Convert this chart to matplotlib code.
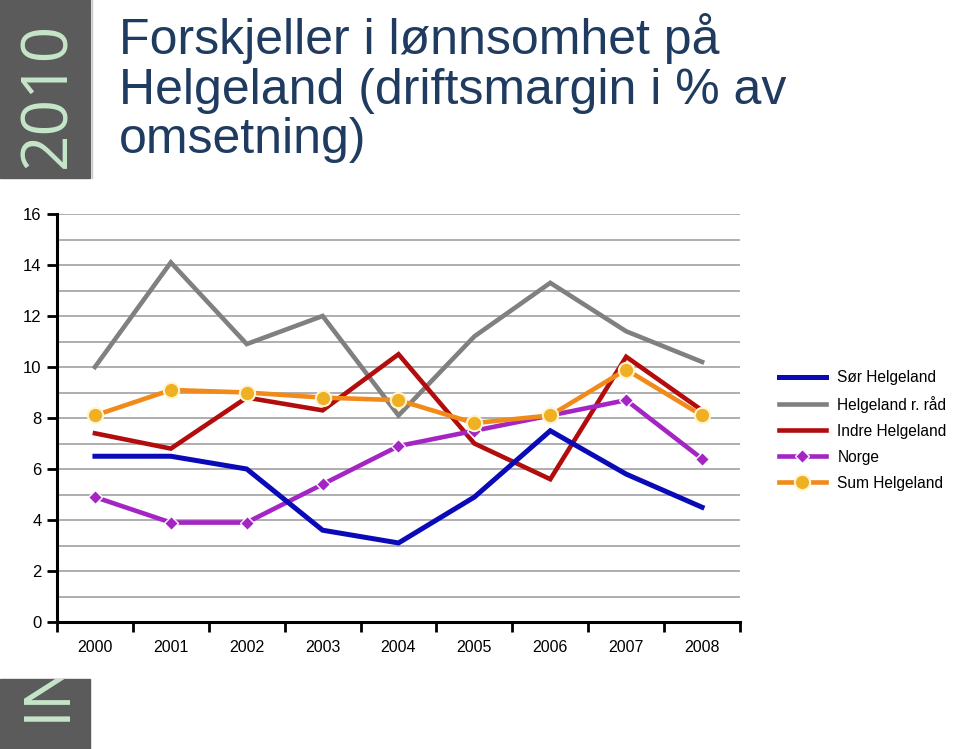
import matplotlib
matplotlib.use("Agg")
import matplotlib.pyplot as plt
from matplotlib.patches import Rectangle
from matplotlib.lines import Line2D

years = ['2000', '2001', '2002', '2003', '2004', '2005', '2006', '2007', '2008']
sor_helgeland = [6.5, 6.5, 6.0, 3.6, 3.1, 4.9, 7.5, 5.8, 4.5]
helgeland_rad = [10.0, 14.1, 10.9, 12.0, 8.1, 11.2, 13.3, 11.4, 10.2]
indre_helgeland = [7.4, 6.8, 8.8, 8.3, 10.5, 7.0, 5.6, 10.4, 8.3]
norge = [4.9, 3.9, 3.9, 5.4, 6.9, 7.5, 8.1, 8.7, 6.4]
sum_helgeland = [8.1, 9.1, 9.0, 8.8, 8.7, 7.8, 8.1, 9.9, 8.1]
y_ticks = [0, 2, 4, 6, 8, 10, 12, 14, 16]

title = "Forskjeller i lønnsomhet på\nHelgeland (driftsmargin i % av\nomsetning)"
font = 'Liberation Sans'

W, H = 960, 749
fig = plt.figure(figsize=(W / 100, H / 100), dpi=100)

# sidebars
side = '#5b5b5b'
fig.patches.append(Rectangle((0, 1 - 178 / H), 90 / W, 178 / H, transform=fig.transFigure,
                             color=side, zorder=0))
r2 = Rectangle((0, 0), 90 / W, 70 / H, transform=fig.transFigure, color=side, zorder=0)
fig.patches.append(r2)
fig.add_artist(Line2D([92 / W, 92 / W], [1, 1 - 178 / H], transform=fig.transFigure,
                      color='#c8c8c8', lw=1))
fig.text(48 / W, 1 - 95 / H, '2010', rotation=90, color='#c6e6c9', fontsize=46,
         family='Open Sans', ha='center', va='center')
t = fig.text(48 / W, 1 - 721 / H, 'IN', rotation=90, color='#c6e6c9', fontsize=46,
             family='Open Sans', ha='center', va='bottom')
t.set_clip_path(r2)

fig.text(119 / W, 1 - 13 / H, title, color='#1f3b60', fontsize=36,
         family=font, ha='left', va='top', linespacing=1.1)

ax = fig.add_axes([57 / W, (H - 622) / H, (740 - 57) / W, (622 - 214) / H])
x = list(range(len(years)))

ax.plot(x, helgeland_rad, color='#808080', lw=3.3, zorder=3, label='Helgeland r. råd',
        solid_joinstyle='miter')
ax.plot(x, indre_helgeland, color='#b20c0c', lw=3.3, zorder=4, label='Indre Helgeland',
        solid_joinstyle='miter')
ax.plot(x, norge, color='#a424c4', lw=3.3, zorder=5, label='Norge', marker='D',
        markersize=7.5, markerfacecolor='#a424c4', markeredgecolor='white', markeredgewidth=1)
ax.plot(x, sor_helgeland, color='#0a0ab8', lw=3.6, zorder=6, label='Sør Helgeland',
        solid_joinstyle='miter')
ax.plot(x, sum_helgeland, color='#f28a1a', lw=3.3, zorder=7, label='Sum Helgeland', marker='o',
        markersize=11, markerfacecolor='#f0b024', markeredgecolor='#fff4d0', markeredgewidth=1.5)

ax.set_xlim(-0.5, len(years) - 0.5)
ax.set_ylim(0, 16)
ax.set_yticks(y_ticks)
ax.set_yticks(range(0, 17), minor=True)
ax.tick_params(axis='y', which='minor', length=0)
ax.tick_params(axis='y', which='major', length=7, width=2, direction='out', pad=4,
               labelsize=12)
ax.grid(axis='y', which='both', color='#a8a8a8', lw=1.3, zorder=1)
ax.set_axisbelow(True)

ax.set_xticks(x)
ax.set_xticklabels(years)
ax.set_xticks([i - 0.5 for i in range(len(years) + 1)], minor=True)
ax.tick_params(axis='x', which='major', length=0, pad=13, labelsize=11.5)
ax.tick_params(axis='x', which='minor', length=7, width=2, direction='out')
for lab in ax.get_xticklabels() + ax.get_yticklabels():
    lab.set_family(font)

for s in ['top', 'right']:
    ax.spines[s].set_visible(False)
for s in ['left', 'bottom']:
    ax.spines[s].set_linewidth(2.2)
    ax.spines[s].set_color('black')

h, l = ax.get_legend_handles_labels()
order = ['Sør Helgeland', 'Helgeland r. råd', 'Indre Helgeland', 'Norge', 'Sum Helgeland']
hh = [h[l.index(o)] for o in order]
fig.legend(hh, order, loc='upper left', bbox_to_anchor=(779 / W, 1 - 370 / H),
           frameon=False, prop={'family': font, 'size': 11.2},
           handlelength=3.0, handletextpad=0.75, labelspacing=0.7, borderaxespad=0,
           borderpad=0)

fig.savefig('out.png', dpi=100)
